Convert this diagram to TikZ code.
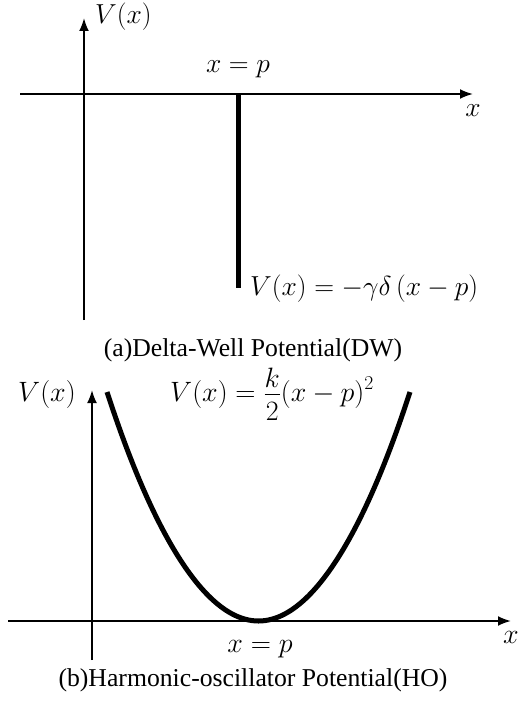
\RequirePackage{fix-cm}
\documentclass[tikz,border=0pt]{standalone}
\usepackage[no-math]{fontspec}
\newfontfamily\capfont{Liberation Serif}
\usetikzlibrary{arrows.meta}
\begin{document}
\begin{tikzpicture}[x=1pt,y=-1pt,
  axisline/.style={line width=2pt},
  axisarrow/.style={line width=2pt,-{Latex[length=13pt,width=10pt]}},
  thickcurve/.style={line width=5pt},
  mlabel/.style={inner sep=0pt,font=\fontsize{27.5}{33}\selectfont},
  mlabelb/.style={inner sep=0pt,font=\fontsize{28}{34}\selectfont},
  captext/.style={inner sep=0pt,font=\capfont\fontsize{25.7}{30}\selectfont}]
\useasboundingbox (0,0) rectangle (519,701);
% ---------- panel (a) ----------
\coordinate (aO) at (84,94);
\coordinate (aXL) at (20,94);
\coordinate (aXR) at (473,94);
\coordinate (aYB) at (84,320);
\coordinate (aYT) at (84,18);
\coordinate (dTop) at (238,94);
\coordinate (dBot) at (238,288);
\draw[axisarrow] (aXL) -- (aXR);
\draw[axisarrow] (aYB) -- (aYT);
\draw[thickcurve] (dTop) -- (dBot);
\node[mlabel,anchor=base west] (aV) at (95,24) {$V(x)$};
\node[mlabel,anchor=base] (ap) at (238,72) {$x=p$};
\node[mlabel,anchor=base] (ax) at (473,116) {$x$};
\node[mlabel,anchor=base west] (aform) at (250,295) {$V(x)=-\gamma\delta\,(x-p)$};
\node[captext] (capa) at (253,350) {(a)Delta-Well Potential(DW)};
% ---------- panel (b) ----------
\coordinate (bXL) at (8,621);
\coordinate (bXR) at (511,621);
\coordinate (bYB) at (92,660);
\coordinate (bYT) at (92,390);
\coordinate (pL) at (107,392);
\coordinate (pV) at (258.5,621);
\coordinate (pR) at (410,392);
\draw[axisarrow] (bXL) -- (bXR);
\draw[axisarrow] (bYB) -- (bYT);
\draw[thickcurve] (pL) parabola bend (pV) (pR);
\node[mlabelb,anchor=base west] (bV) at (18,401) {$V(x)$};
\node[mlabelb,anchor=base west] (bform) at (170,401) {$V(x)=\displaystyle\frac{\raisebox{-5pt}{$k$}}{2}(x-p)^2$};
\node[mlabelb,anchor=base] (bp) at (260,652) {$x=p$};
\node[mlabelb,anchor=base] (bx) at (511,643) {$x$};
\node[captext] (capb) at (253,680) {(b)Harmonic-oscillator Potential(HO)};
\end{tikzpicture}
\end{document}
